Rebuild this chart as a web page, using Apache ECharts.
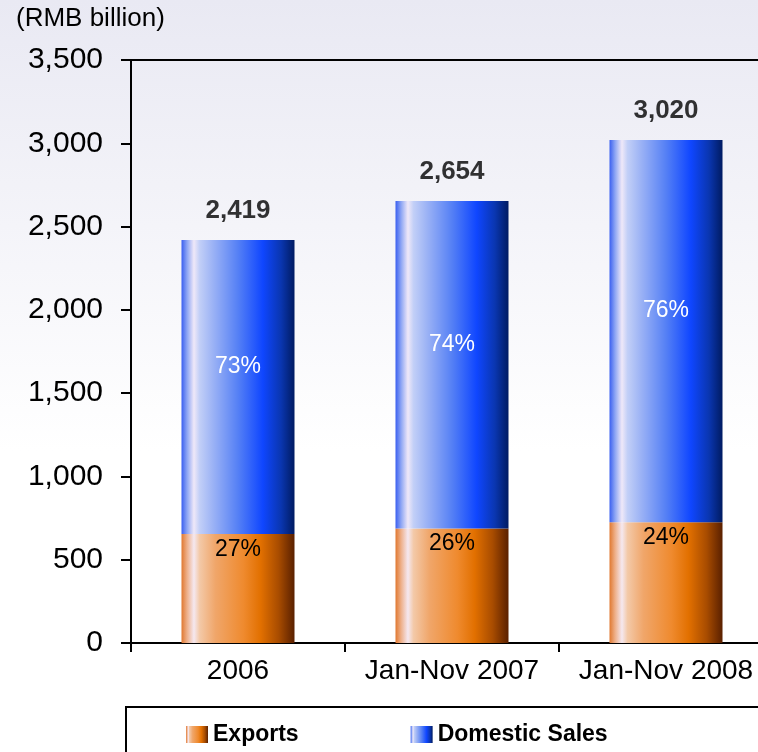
<!DOCTYPE html>
<html>
<head>
<meta charset="utf-8">
<title>Sales</title>
<script src="https://cdn.jsdelivr.net/npm/echarts@6/dist/echarts.min.js"></script>
<style>
  html, body { margin: 0; padding: 0; }
  body { background: linear-gradient(#e9e9f3 0%, #ffffff 60%); }
  #chart { width: 758px; height: 752px; }
</style>
</head>
<body>
<div id="chart"></div>
<script>
const categories = ['2006', 'Jan-Nov 2007', 'Jan-Nov 2008']
const exportsData = [655, 688, 725]
const domesticData = [1764, 1966, 2295]
const totals = [2419, 2654, 3020]
const exportsPct = ['27%', '26%', '24%']
const domesticPct = ['73%', '74%', '76%']

const font = 'Liberation Sans, Arial, Helvetica, sans-serif'

const blueGrad = new echarts.graphic.LinearGradient(0, 0, 1, 0, [
  { offset: 0, color: '#3a5ff0' },
  { offset: 0.05, color: '#8ea6f4' },
  { offset: 0.11, color: '#efe8f8' },
  { offset: 0.16, color: '#c2cff7' },
  { offset: 0.28, color: '#9bb2f5' },
  { offset: 0.5, color: '#5580f5' },
  { offset: 0.72, color: '#0f46ff' },
  { offset: 0.88, color: '#0a36b0' },
  { offset: 1, color: '#001b62' }
])
const orangeGrad = new echarts.graphic.LinearGradient(0, 0, 1, 0, [
  { offset: 0, color: '#e07830' },
  { offset: 0.05, color: '#eeb08a' },
  { offset: 0.11, color: '#f5e8f0' },
  { offset: 0.16, color: '#f3c9a8' },
  { offset: 0.3, color: '#f0a66a' },
  { offset: 0.55, color: '#ef8a2e' },
  { offset: 0.7, color: '#e27000' },
  { offset: 0.86, color: '#a84c00' },
  { offset: 1, color: '#5a2000' }
])

const chart = echarts.init(document.getElementById('chart'))

chart.setOption({
  backgroundColor: 'transparent',
  animation: false,
  textStyle: { fontFamily: font },
  title: {
    text: '(RMB billion)',
    left: 16,
    top: 6,
    padding: 0,
    textStyle: { fontSize: 26, fontWeight: 'normal', color: '#000', fontFamily: font }
  },
  graphic: [{
    type: 'rect',
    left: 125,
    top: 706,
    shape: { width: 700, height: 100 },
    style: { fill: '#fff', stroke: '#000', lineWidth: 2 },
    z: 0
  }],
  legend: {
    data: ['Exports', 'Domestic Sales'],
    left: 186,
    top: 723,
    padding: 0,
    itemWidth: 22,
    itemHeight: 17,
    itemGap: 112,
    icon: 'rect',
    z: 10,
    textStyle: { fontSize: 23, fontWeight: 'bold', color: '#000', fontFamily: font }
  },
  grid: {
    left: 131,
    top: 60,
    width: 642,
    height: 583,
    outerBoundsMode: 'none',
    containLabel: false,
    show: true,
    borderColor: '#000',
    borderWidth: 2,
    backgroundColor: 'transparent'
  },
  xAxis: {
    type: 'category',
    data: categories,
    axisLine: { lineStyle: { color: '#000', width: 2 } },
    axisTick: { show: true, length: 9, lineStyle: { color: '#000', width: 2 } },
    axisLabel: { fontSize: 28, color: '#000', margin: 14, interval: 0, hideOverlap: false, fontFamily: font }
  },
  yAxis: {
    type: 'value',
    min: 0,
    max: 3500,
    interval: 500,
    splitLine: { show: false },
    axisLine: { show: true, lineStyle: { color: '#000', width: 2 } },
    axisTick: { show: true, length: 10, lineStyle: { color: '#000', width: 2 } },
    axisLabel: {
      fontSize: 30,
      color: '#000',
      margin: 28,
      fontFamily: font,
      formatter: v => v.toLocaleString('en-US')
    }
  },
  series: [
    {
      name: 'Exports',
      type: 'bar',
      stack: 'total',
      barWidth: 113,
      data: exportsData,
      itemStyle: { color: orangeGrad },
      label: {
        show: true,
        position: 'insideTop',
        distance: 4,
        fontSize: 23,
        color: '#000',
        fontFamily: font,
        formatter: p => exportsPct[p.dataIndex]
      }
    },
    {
      name: 'Domestic Sales',
      type: 'bar',
      stack: 'total',
      barWidth: 113,
      data: domesticData,
      itemStyle: { color: blueGrad },
      label: {
        show: true,
        position: 'inside',
        offset: [0, -20],
        fontSize: 23,
        color: '#fff',
        fontFamily: font,
        formatter: p => domesticPct[p.dataIndex]
      }
    },
    {
      name: 'Total',
      type: 'scatter',
      data: totals,
      symbolSize: 0,
      silent: true,
      label: {
        show: true,
        position: 'top',
        distance: 16,
        fontSize: 26,
        fontWeight: 'bold',
        color: '#000',
        fontFamily: font,
        formatter: p => p.value.toLocaleString('en-US')
      }
    }
  ]
})

window.addEventListener('resize', function() {
  chart.resize()
})
</script>
</body>
</html>
